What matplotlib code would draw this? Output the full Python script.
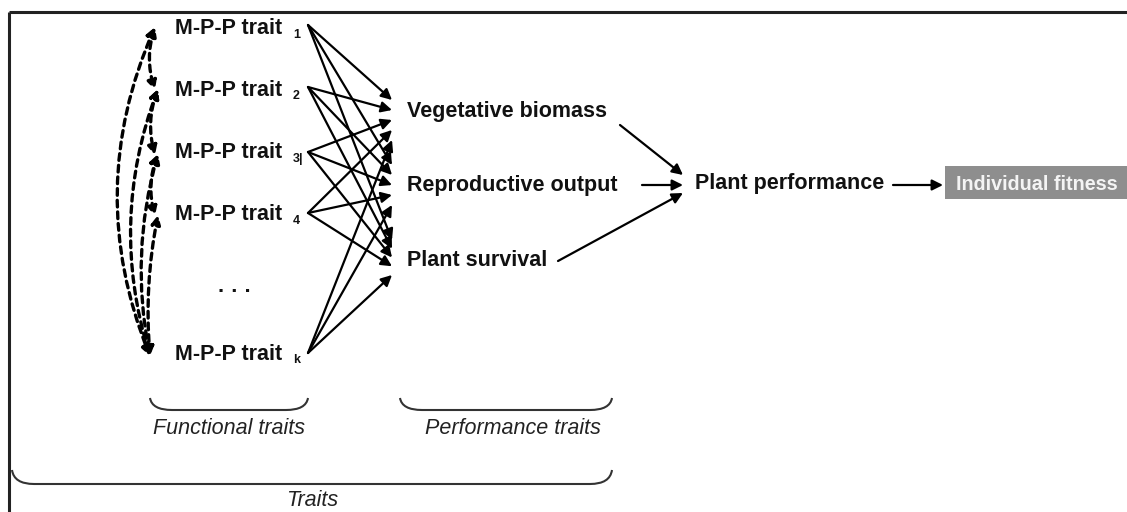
import matplotlib
matplotlib.use("Agg")
import matplotlib.pyplot as plt
from matplotlib.patches import Rectangle, PathPatch
from matplotlib.path import Path

# ---- content ----
trait_labels = ["M-P-P trait", "M-P-P trait", "M-P-P trait", "M-P-P trait", "M-P-P trait"]
trait_subs = ["1", "2", "3|", "4", "k"]
perf_labels = ["Vegetative biomass", "Reproductive output", "Plant survival"]
final_label = "Plant performance"
fitness_label = "Individual fitness"
group_labels = ["Functional traits", "Performance traits", "Traits"]
# dashed correlations between functional traits (index pairs) with arc curvature
trait_links = [(0, 1), (1, 2), (2, 3), (0, 4), (1, 4), (2, 4), (3, 4)]
link_rad = [0.16, 0.16, 0.16, 0.21, 0.17, 0.12, 0.07]

# ---- layout (pixel space) ----
W, H = 1127, 512
trait_y = [29, 90, 153, 215, 354]
dots_y = 292
trait_x = 175
src_x = 308
src_y = [25, 87, 152, 213, 353]
perf_x = 407
perf_y = [111, 185, 260]
end_x = 392
end_ranges = [(100, 140), (165, 205), (240, 275)]
dash_x = [152, 155, 155, 155, 150]

fig = plt.figure(figsize=(W / 100, H / 100), dpi=100)
ax = fig.add_axes([0, 0, 1, 1])
ax.set_xlim(0, W)
ax.set_ylim(H, 0)
ax.axis("off")

FONT = "Liberation Sans"
FS = 15.5
FSI = 15.5

# frame
ax.plot([9, 9], [12, H], color="#222222", lw=2.2, solid_capstyle="butt")
ax.plot([9, W], [12, 12], color="#222222", lw=2.2, solid_capstyle="butt")

# trait labels
for lab, sub, y in zip(trait_labels, trait_subs, trait_y):
    ax.text(trait_x, y, lab, fontsize=FS, fontweight="bold", family=FONT,
            va="center", ha="left", color="#111111")
    ax.text(trait_x + 118, y + 6, sub, fontsize=9, fontweight="bold", family=FONT,
            va="center", ha="left", color="#111111")
ax.text(trait_x + 60, dots_y, "· · ·", fontsize=FS, fontweight="bold", family=FONT,
        va="center", ha="center", color="#111111")

# solid arrows functional -> performance
arrow_kw = dict(arrowstyle="-|>", color="black", lw=1.6, mutation_scale=16,
                shrinkA=0, shrinkB=0)
n = len(src_y)
for j, (lo, hi) in enumerate(end_ranges):
    for i in range(n):
        ey = lo + i * (hi - lo) / (n - 1)
        ax.annotate("", xy=(end_x, ey), xytext=(src_x, src_y[i]), arrowprops=arrow_kw)

# dashed double-headed arcs among functional traits
for (a, b), rad in zip(trait_links, link_rad):
    ax.annotate("", xy=(dash_x[b], src_y[b] + 3), xytext=(dash_x[a] + 3, src_y[a] + 2),
                arrowprops=dict(arrowstyle="<|-|>", color="black", lw=2.4,
                                linestyle=(0, (2.0, 1.5)), mutation_scale=13,
                                shrinkA=0, shrinkB=0,
                                connectionstyle=f"arc3,rad={rad}"))

# performance labels
for lab, y in zip(perf_labels, perf_y):
    ax.text(perf_x, y, lab, fontsize=FS, fontweight="bold", family=FONT,
            va="center", ha="left", color="#111111")

# arrows performance -> plant performance
pp_x, pp_y = 695, 184
ax.annotate("", xy=(683, 175), xytext=(620, 125), arrowprops=arrow_kw)
ax.annotate("", xy=(683, 185), xytext=(642, 185), arrowprops=arrow_kw)
ax.annotate("", xy=(683, 193), xytext=(558, 261), arrowprops=arrow_kw)
ax.text(pp_x, pp_y, final_label, fontsize=FS, fontweight="bold", family=FONT,
        va="center", ha="left", color="#111111")
ax.annotate("", xy=(943, 185), xytext=(893, 185), arrowprops=arrow_kw)

# fitness box
ax.add_patch(Rectangle((945, 166), 200, 33, facecolor="#8e8e8e", edgecolor="none"))
ax.text(956, 184, fitness_label, fontsize=14.2, fontweight="bold", family=FONT,
        va="center", ha="left", color="#f4f4f4")

# braces
def brace(x0, x1, ytop, ybot, r=22):
    verts = [(x0, ytop), (x0 + 2, ybot), (x0 + r, ybot), (x1 - r, ybot),
             (x1 - 2, ybot), (x1, ytop)]
    codes = [Path.MOVETO, Path.CURVE3, Path.CURVE3, Path.LINETO, Path.CURVE3, Path.CURVE3]
    ax.add_patch(PathPatch(Path(verts, codes), facecolor="none", edgecolor="#333333", lw=1.5))

brace(150, 308, 398, 410)
brace(400, 612, 398, 410)
brace(12, 612, 470, 484)

ax.text(229, 428, group_labels[0], fontsize=FSI, style="italic", family=FONT,
        ha="center", va="center", color="#222222")
ax.text(513, 428, group_labels[1], fontsize=FSI, style="italic", family=FONT,
        ha="center", va="center", color="#222222")
ax.text(312, 500, group_labels[2], fontsize=FSI, style="italic", family=FONT,
        ha="center", va="center", color="#222222")

fig.savefig("out.png", dpi=100)
